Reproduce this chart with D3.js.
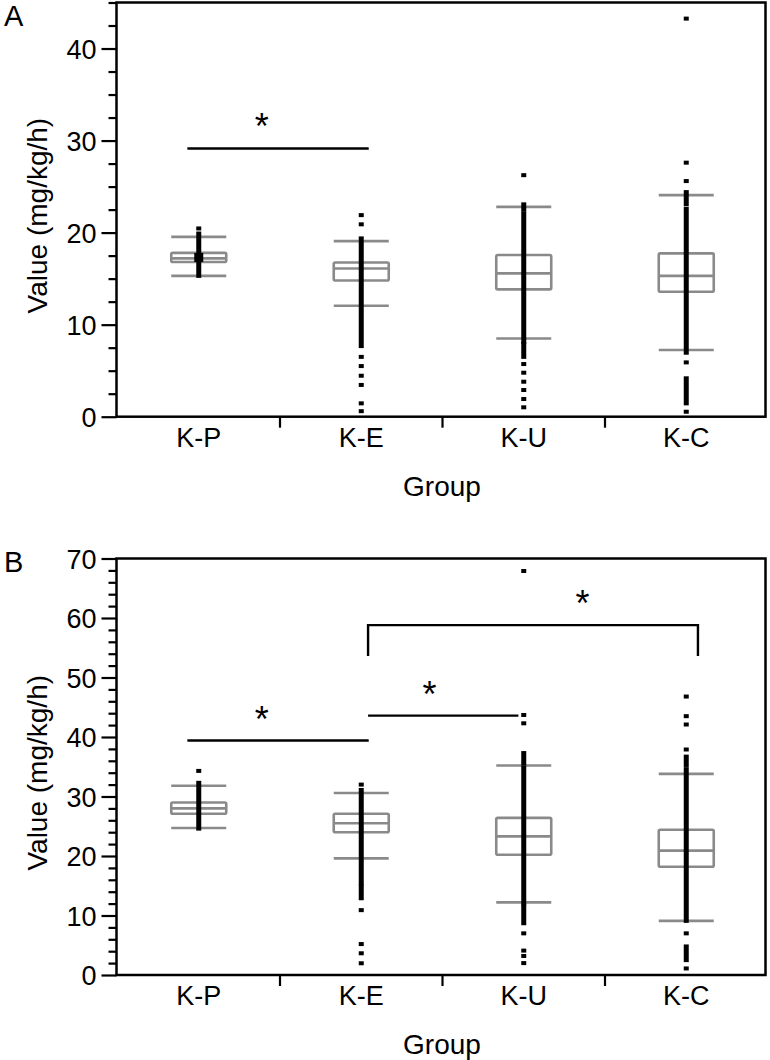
<!DOCTYPE html>
<html><head><meta charset="utf-8">
<script src="https://cdn.jsdelivr.net/npm/d3@7"></script>
<style>body{margin:0;background:#fff} text{font-family:"Liberation Sans",Arial,Helvetica,sans-serif;fill:#000}</style>
</head><body><svg id="c" width="770" height="1060"></svg>
<script>
const categories = ["K-P","K-E","K-U","K-C"];
const axisTitleX = "Group";
const axisTitleY = "Value (mg/kg/h)";

// ---------- Panel A ----------
const A_majorTicks = [0,10,20,30,40];
const A_whiskerLow  = [15.3, 12.05, 8.5, 7.24];
const A_q1          = [16.8, 14.8, 13.83, 13.57];
const A_median      = [17.2, 16.1, 15.57, 15.3];
const A_q3          = [17.8, 16.76, 17.56, 17.74];
const A_whiskerHigh = [19.54, 19.07, 22.8, 24.07];
// dense runs of overlapping points [low, high]
const A_runs = [
  [[15.3,19.9]],
  [[7.67,19.37]],
  [[8.14,22.1],[22.5,23.07],[6.5,7.9]],
  [[6.95,22.6],[23.1,24.4],[1.45,4.17]]
];
// single visible points
const A_dots = [
  [20.45],
  [21.9,20.9,6.5,5.5,4.45,3.45,1.45,0.6],
  [26.24,5.72,4.78,3.8,2.9,1.92,1.02],
  [43.25,27.6,25.6,5.9,0.54]
];
const A_cluster = [17.3, null, null, null];
const A_sigFrom = [0.43], A_sigTo = [1.546], A_sigY = [29.14], A_sigDrop = [null], A_starX = [0.887];

// ---------- Panel B ----------
const B_majorTicks = [0,10,20,30,40,50,60,70];
const B_whiskerLow  = [24.7, 19.6, 12.2, 9.1];
const B_q1          = [27.1, 24.0, 20.2, 18.2];
const B_median      = [28.0, 25.5, 23.3, 20.9];
const B_q3          = [29.0, 27.1, 26.4, 24.4];
const B_whiskerHigh = [31.8, 30.6, 35.2, 33.8];
const B_runs = [
  [[24.6,32.3]],
  [[15.4,31.1],[12.9,14.9]],
  [[35.5,37.3],[12.06,34.8],[8.7,11.5]],
  [[35.3,36.7],[9.1,34.6],[2.5,4.8]]
];
const B_dots = [
  [34.3],
  [32.0,10.9,5.2,3.65,1.97],
  [67.9,43.7,42.3,7.0,4.1,3.2,2.0],
  [46.8,43.5,42.1,37.9,7.0,1.1]
];
const B_cluster = [null, null, null, null];
const B_sigFrom = [0.43, 1.542, 1.542], B_sigTo = [1.546, 2.467, 3.572];
const B_sigY = [39.4, 43.6, 58.8], B_sigDrop = [null, null, 53.6], B_starX = [0.887, 1.92, 2.861];

const panels = [
  {letter:"A", ymax:45, minorStep:2.5, majors:A_majorTicks, top:2.5, bottom:416.7, letterY:26,
   wl:A_whiskerLow,q1:A_q1,med:A_median,q3:A_q3,wh:A_whiskerHigh,runs:A_runs,dots:A_dots,cluster:A_cluster,
   sigFrom:A_sigFrom,sigTo:A_sigTo,sigY:A_sigY,sigDrop:A_sigDrop,starX:A_starX},
  {letter:"B", ymax:70, minorStep:2, majors:B_majorTicks, top:558.5, bottom:975, letterY:572,
   wl:B_whiskerLow,q1:B_q1,med:B_median,q3:B_q3,wh:B_whiskerHigh,runs:B_runs,dots:B_dots,cluster:B_cluster,
   sigFrom:B_sigFrom,sigTo:B_sigTo,sigY:B_sigY,sigDrop:B_sigDrop,starX:B_starX}
];

const svg = d3.select("#c");
const frameL = 116.5, frameR = 765.5;
const x = d3.scaleBand().domain(categories).range([117.5, 767.5]).padding(0);
const pos = d3.scaleLinear().domain([0,4]).range([117.5, 767.5]);
const gray = "#8a8a8a";
const boxW = 55;
const FONT = '"Liberation Sans",Arial,sans-serif';

panels.forEach(p => {
  const g = svg.append("g");
  const y = d3.scaleLinear().domain([0,p.ymax]).range([p.bottom, p.top]);
  const minors = d3.range(0, p.ymax + 0.001, p.minorStep).filter(v => !p.majors.some(m => Math.abs(m-v)<1e-6));

  // minor ticks
  const gm = g.append("g").attr("transform",`translate(${frameL},0)`)
    .call(d3.axisLeft(y).tickValues(minors).tickSize(8).tickFormat(""));
  gm.select(".domain").remove();
  gm.selectAll("line").attr("stroke","#000").attr("stroke-width",2.2);
  // major ticks
  const gM = g.append("g").attr("transform",`translate(${frameL},0)`)
    .call(d3.axisLeft(y).tickValues(p.majors).tickSize(15).tickPadding(5).tickFormat(d3.format("d")));
  gM.select(".domain").remove();
  gM.selectAll("line").attr("stroke","#000").attr("stroke-width",2.2);
  gM.selectAll("text").attr("font-size",27).attr("fill","#000").attr("font-family",FONT).attr("dy","0.36em");

  // x axis labels
  const gx = g.append("g").attr("transform",`translate(0,${p.bottom})`)
    .call(d3.axisBottom(x).tickSize(0).tickPadding(0));
  gx.select(".domain").remove();
  gx.selectAll("text").attr("font-size",27).attr("dy",null).attr("y",30).attr("fill","#000").attr("font-family",FONT);
  // boundary ticks
  g.selectAll(".bt").data(categories.slice(1)).join("line")
    .attr("x1",d=>x(d)).attr("x2",d=>x(d)).attr("y1",p.bottom).attr("y2",p.bottom+11)
    .attr("stroke","#000").attr("stroke-width",2.2);

  // frame
  g.append("rect").attr("x",frameL).attr("y",p.top).attr("width",frameR-frameL).attr("height",p.bottom-p.top)
    .attr("fill","none").attr("stroke","#000").attr("stroke-width",2.5);

  // boxes
  categories.forEach((c,i) => {
    const cx = x(c) + x.bandwidth()/2;
    const bx = g.append("g");
    bx.append("rect").attr("x",cx-boxW/2).attr("y",y(p.q3[i])).attr("width",boxW)
      .attr("height",y(p.q1[i])-y(p.q3[i])).attr("fill","none").attr("stroke",gray).attr("stroke-width",2.6).attr("rx",1.5);
    [p.med[i], p.wl[i], p.wh[i]].forEach(v => {
      bx.append("line").attr("x1",cx-boxW/2).attr("x2",cx+boxW/2).attr("y1",y(v)).attr("y2",y(v))
        .attr("stroke",gray).attr("stroke-width",2.6);
    });
    // points
    p.runs[i].forEach(r => {
      g.append("rect").attr("x",cx-2.5).attr("width",5).attr("y",y(r[1])-2).attr("height",y(r[0])-y(r[1])+4).attr("fill","#000");
    });
    p.dots[i].forEach(v => {
      g.append("rect").attr("x",cx-2.5).attr("width",5).attr("y",y(v)-2).attr("height",4).attr("fill","#000");
    });
    if (p.cluster[i] != null) {
      g.append("rect").attr("x",cx-4.5).attr("width",9).attr("y",y(p.cluster[i])-4.5).attr("height",9).attr("fill","#000");
    }
  });

  // significance bars
  p.sigY.forEach((sy,k) => {
    const x1 = pos(p.sigFrom[k]), x2 = pos(p.sigTo[k]), yy = y(sy);
    if (p.sigDrop[k] != null) {
      const yd = y(p.sigDrop[k]);
      g.append("path").attr("d",`M${x1},${yd}V${yy}H${x2}V${yd}`).attr("fill","none").attr("stroke","#000").attr("stroke-width",2.4);
    } else {
      g.append("line").attr("x1",x1).attr("x2",x2).attr("y1",yy).attr("y2",yy).attr("stroke","#000").attr("stroke-width",2.4);
    }
    g.append("text").attr("x",pos(p.starX[k])).attr("y",yy-9).attr("text-anchor","middle")
      .attr("font-size",36).attr("font-family",'"DejaVu Sans",sans-serif').text("*");
  });

  // axis titles
  const cy = (p.top+p.bottom)/2 + 6;
  g.append("text").attr("transform",`translate(47,${cy}) rotate(-90)`).attr("text-anchor","middle")
    .attr("font-size",28).text(axisTitleY);
  g.append("text").attr("x",(frameL+frameR)/2 + 1).attr("y",p.bottom+79).attr("text-anchor","middle")
    .attr("font-size",28).text(axisTitleX);
  // panel letter
  g.append("text").attr("x",4).attr("y",p.letterY).attr("font-size",29).text(p.letter);
});
</script></body></html>
